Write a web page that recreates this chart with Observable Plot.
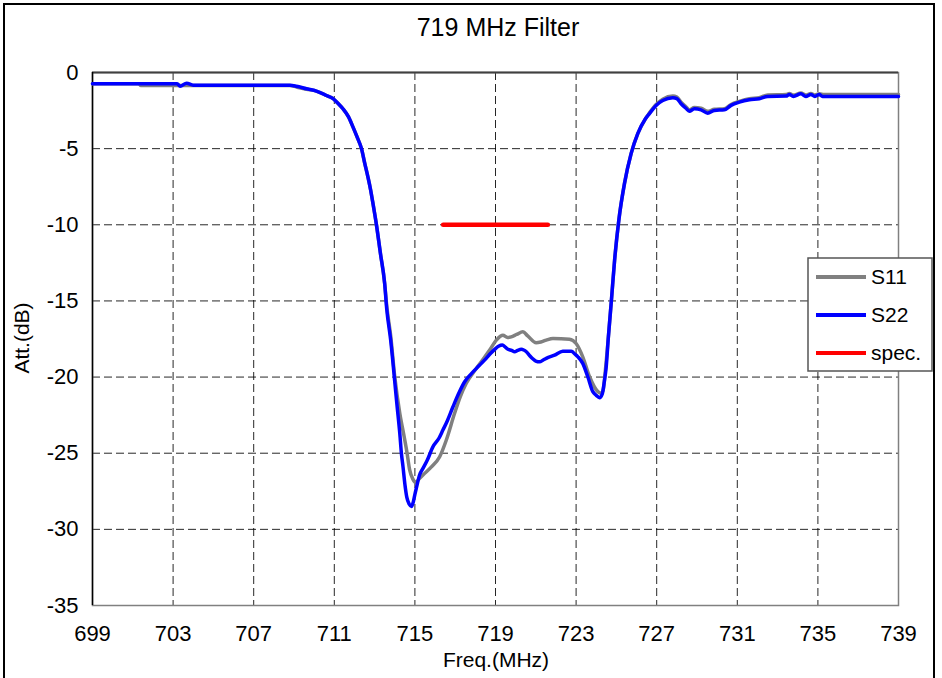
<!DOCTYPE html>
<html><head><meta charset="utf-8">
<script src="https://cdn.jsdelivr.net/npm/d3@7"></script>
<script src="https://cdn.jsdelivr.net/npm/@observablehq/plot@0.6"></script>
<style>body{margin:0;background:#fff}svg{display:block}</style>
</head><body><div id="chart"></div>
<script>
const xTicks = [699,703,707,711,715,719,723,727,731,735,739];
const yTicks = [0,-5,-10,-15,-20,-25,-30,-35];
const xGrid = [703,707,711,715,719,723,727,731,735];
const yGrid = [-5,-10,-15,-20,-25,-30];

const s22Freq = [699,701,703.2,703.35,703.67,704.0,706,708.8,709.12,709.62,710.11,710.61,710.94,711.2,711.43,711.7,711.93,712.15,712.35,712.5,712.67,712.8,712.92,713.09,713.29,713.5,713.6,713.8,714.0,714.1,714.25,714.33,714.41,714.5,714.6,714.72,714.83,714.92,715.0,715.07,715.24,715.4,715.6,715.9,716.2,716.39,716.6,716.89,717.2,717.47,717.75,718.05,718.3,718.54,718.75,718.96,719.15,719.34,719.5,719.62,719.8,719.95,720.1,720.28,720.4,720.53,720.7,720.82,721.0,721.19,721.35,721.52,721.93,722.34,722.76,722.95,723.09,723.33,723.58,723.83,724.0,724.16,724.3,724.4,724.49,724.6,724.75,724.91,725.12,725.4,725.73,726.06,726.44,726.64,726.97,727.3,727.8,728.0,728.21,728.45,728.62,728.87,729.2,729.53,729.86,730.36,730.69,731.1,731.6,732.09,732.51,733.42,733.58,733.78,734.16,734.4,734.65,734.85,735.07,735.23,739];
const s22Att = [-0.74,-0.74,-0.74,-0.9,-0.7,-0.83,-0.84,-0.84,-0.9,-1.07,-1.22,-1.51,-1.72,-2.05,-2.38,-2.9,-3.59,-4.3,-5.0,-5.9,-6.87,-7.7,-8.61,-9.99,-11.89,-13.86,-15.5,-17.6,-20.3,-21.7,-23.7,-25.0,-25.9,-27.0,-27.9,-28.35,-28.5,-28.2,-27.7,-27.3,-26.4,-26.0,-25.5,-24.57,-24.0,-23.48,-22.9,-21.95,-21.0,-20.31,-19.85,-19.43,-19.1,-18.77,-18.45,-18.18,-17.98,-17.9,-18.05,-18.18,-18.25,-18.34,-18.25,-18.18,-18.22,-18.34,-18.6,-18.77,-18.95,-19.0,-18.9,-18.77,-18.56,-18.3,-18.3,-18.5,-18.67,-19.1,-19.98,-20.96,-21.2,-21.35,-21.1,-20.3,-19.4,-17.4,-15.0,-12.33,-9.7,-7.3,-5.33,-4.02,-3.04,-2.7,-2.16,-1.84,-1.66,-1.72,-2.05,-2.35,-2.54,-2.38,-2.45,-2.67,-2.49,-2.45,-2.16,-1.95,-1.79,-1.72,-1.57,-1.55,-1.44,-1.57,-1.4,-1.57,-1.44,-1.57,-1.44,-1.57,-1.57];

const s11Freq = [699,701.3,701.4,708.8,709.12,709.62,710.11,710.61,710.94,711.2,711.43,711.7,711.93,712.15,712.35,712.5,712.67,712.8,712.92,713.09,713.29,713.5,713.6,713.8,714.0,714.25,714.45,714.6,714.74,714.9,715.04,715.2,715.4,715.82,716.23,716.56,716.97,717.25,717.55,718.05,718.4,718.71,719.04,719.37,719.6,719.78,720.05,720.36,720.6,721.02,721.25,721.52,721.85,722.67,723.0,723.33,723.67,724.08,724.25,724.35,724.45,724.6,724.75,724.91,725.12,725.4,725.73,726.06,726.44,726.64,726.97,727.3,727.8,728.0,728.21,728.45,728.62,728.87,729.2,729.53,729.86,730.36,730.69,731.1,731.6,732.09,732.51,733.42,733.58,733.78,734.16,734.4,734.65,734.85,735.07,735.3,739];
const s11Att = [-0.74,-0.74,-0.86,-0.86,-0.95,-1.1,-1.22,-1.51,-1.72,-2.05,-2.38,-2.9,-3.59,-4.3,-5.0,-5.9,-6.87,-7.7,-8.61,-9.99,-11.89,-13.86,-15.3,-17.3,-19.98,-22.38,-23.8,-24.9,-26.1,-26.7,-26.93,-26.7,-26.43,-25.9,-25.23,-24.13,-22.38,-21.3,-20.41,-19.43,-18.8,-18.23,-17.57,-17.25,-17.4,-17.36,-17.2,-17.03,-17.3,-17.75,-17.7,-17.57,-17.46,-17.51,-17.8,-18.67,-19.98,-20.96,-21.07,-20.8,-19.6,-17.4,-15.0,-12.33,-9.7,-7.3,-5.33,-4.02,-3.04,-2.65,-2.1,-1.75,-1.55,-1.62,-1.95,-2.25,-2.45,-2.3,-2.35,-2.55,-2.42,-2.38,-2.1,-1.9,-1.72,-1.65,-1.48,-1.45,-1.38,-1.48,-1.35,-1.48,-1.38,-1.48,-1.4,-1.45,-1.45];

const specFreq = [716.4, 721.6];
const specAtt = [-10, -10];

const seriesNames = ["S11","S22","spec."];
const seriesColors = ["#808080","#0000ff","#ff0000"];

const toRows = (fs, as) => fs.map((f,i) => ({f, a: as[i]}));
const s11 = toRows(s11Freq, s11Att);
const s22 = toRows(s22Freq, s22Att);
const spec = toRows(specFreq, specAtt);

const W = 942, H = 678;
const font = "'Liberation Sans', Arial, sans-serif";

const chart = Plot.plot({
  width: W, height: H,
  marginLeft: 92, marginRight: 44, marginTop: 72, marginBottom: 73,
  style: {fontFamily: font, fontSize: "22px", background: "#fff", color: "#000", overflow: "visible"},
  x: {domain: [699, 739]},
  y: {domain: [-35, 0]},
  marks: [
    Plot.gridX(xGrid, {stroke: "#000", strokeOpacity: 0.85, strokeDasharray: "8,4"}),
    Plot.gridY(yGrid, {stroke: "#000", strokeOpacity: 0.85, strokeDasharray: "8,4"}),
    Plot.frame({stroke: "#808080", strokeWidth: 1.5}),
    Plot.ruleY([0], {stroke: "#404040", strokeWidth: 2}),
    Plot.ruleX([699], {stroke: "#000", strokeWidth: 1.5}),
    Plot.line(s11, {x: "f", y: "a", stroke: seriesColors[0], strokeWidth: 3.5, curve: "monotone-x"}),
    Plot.line(s22, {x: "f", y: "a", stroke: seriesColors[1], strokeWidth: 3.5, curve: "monotone-x"}),
    Plot.line(spec, {x: "f", y: "a", stroke: seriesColors[2], strokeWidth: 4.5, strokeLinecap: "round"}),
    Plot.axisX(xTicks, {tickSize: 0, tickPadding: 20, label: null, tickFormat: d => String(d), fontSize: 22}),
    Plot.axisY(yTicks, {tickSize: 0, tickPadding: 14, label: null, tickFormat: d => String(d), fontSize: 22})
  ]
});

const svg = d3.select(chart);
svg.append("rect").attr("x", 4).attr("y", 4).attr("width", 930).attr("height", 690)
  .attr("fill", "none").attr("stroke", "#000").attr("stroke-width", 2);

svg.append("text").attr("x", 498).attr("y", 36).attr("text-anchor", "middle")
  .attr("font-family", font).attr("font-size", 25).attr("fill", "#000").text("719 MHz Filter");

svg.append("text").attr("x", 496).attr("y", 667).attr("text-anchor", "middle")
  .attr("font-family", font).attr("font-size", 21).attr("fill", "#000").text("Freq.(MHz)");

svg.append("text").attr("transform", "translate(29,338) rotate(-90)").attr("text-anchor", "middle")
  .attr("font-family", font).attr("font-size", 21).attr("fill", "#000").text("Att.(dB)");

const lg = svg.append("g");
lg.append("rect").attr("x", 808).attr("y", 258).attr("width", 124).attr("height", 113)
  .attr("fill", "#fff").attr("stroke", "#555").attr("stroke-width", 1.5);
seriesNames.forEach((name, i) => {
  const y = 277 + i * 38;
  lg.append("line").attr("x1", 816).attr("x2", 866).attr("y1", y).attr("y2", y)
    .attr("stroke", seriesColors[i]).attr("stroke-width", 4);
  lg.append("text").attr("x", 871).attr("y", y).attr("dy", "0.35em").attr("text-anchor", "start")
    .attr("font-family", font).attr("font-size", 21).attr("fill", "#000").text(name);
});

document.getElementById("chart").appendChild(chart);
</script>
</body></html>
